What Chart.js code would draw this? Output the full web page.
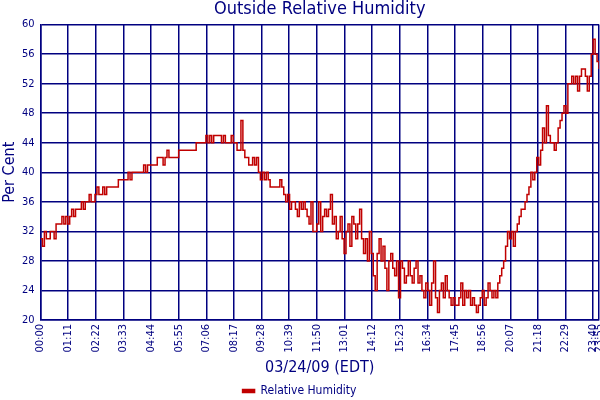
<!DOCTYPE html>
<html><head><meta charset="utf-8">
<script src="https://cdn.jsdelivr.net/npm/chart.js@4/dist/chart.umd.min.js"></script>
<style>html,body{margin:0;padding:0;background:#fff}#wrap{width:600px;height:400px}</style>
</head><body><div id="wrap"><canvas id="c" width="600" height="400"></canvas></div>
<script>
const chartTitle = 'Outside Relative Humidity';
const seriesName = 'Relative Humidity';
const xAxisTitle = '03/24/09 (EDT)';
const yAxisTitle = 'Per Cent';
const xTickLabels = ['00:00','01:11','02:22','03:33','04:44','05:55','07:06','08:17','09:28','10:39','11:50','13:01','14:12','15:23','16:34','17:45','18:56','20:07','21:18','22:29','23:40','23:55'];
const yTickValues = [20,24,28,32,36,40,44,48,52,56,60];
const sampleStepMinutes = 5;
const humidity = [
31,30,32,31,31,32,32,31,33,33,
33,34,33,34,33,34,35,34,35,35,
35,36,35,36,36,37,36,36,37,38,
37,37,38,37,38,38,38,38,38,38,
39,39,39,39,39,40,39,40,40,40,
40,40,40,41,40,41,41,41,41,41,
42,42,42,41,42,43,42,42,42,42,
42,43,43,43,43,43,43,43,43,43,
44,44,44,44,44,45,44,45,44,45,
45,45,45,44,45,44,44,44,45,44,
44,43,43,47,43,42,42,41,41,42,
41,42,40,39,40,39,40,39,38,38,
38,38,38,39,38,37,36,37,35,36,
36,35,34,36,35,36,35,34,33,36,
32,32,33,36,32,34,35,34,35,37,
33,34,31,32,34,31,29,32,33,30,
34,33,31,33,35,31,29,31,28,32,
29,26,24,29,31,28,30,27,24,28,
29,27,26,28,23,28,27,25,26,28,
26,25,27,28,25,26,24,23,25,24,
22,25,28,23,21,24,25,23,26,24,
23,22,23,22,22,23,25,22,24,23,
24,22,23,22,21,22,23,24,22,23,
25,24,23,24,23,25,26,27,28,30,
32,31,32,30,32,33,34,35,35,36,
37,38,40,39,40,42,41,43,46,44,
49,45,44,44,43,44,46,47,48,49,
48,52,52,53,52,53,51,53,54,54,
53,51,53,56,58,56,55,54
];

const navy = '#000080';
const red = '#c00000';
const toMin = s => { const p = s.split(':'); return (+p[0]) * 60 + (+p[1]); };
const xTickMinutes = xTickLabels.map(toMin);
const labelFor = {};
xTickLabels.forEach((l, i) => { labelFor[xTickMinutes[i]] = l; });
const points = humidity.map((v, i) => ({ x: i * sampleStepMinutes, y: v }));

Chart.defaults.font.family = '"DejaVu Sans Condensed", "DejaVu Sans", Verdana, sans-serif';
Chart.defaults.color = navy;

new Chart(document.getElementById('c'), {
  type: 'line',
  data: { datasets: [{
    label: seriesName, data: points, borderColor: red, backgroundColor: red,
    borderWidth: 1.5, pointRadius: 0, stepped: true, fill: false
  }]},
  options: {
    responsive: false, animation: false,
    layout: { padding: { left: 0, right: 1, top: 0, bottom: -7 } },
    plugins: {
      title: { display: true, fullSize: false, text: chartTitle, color: navy, font: { size: 18, weight: 'normal' }, padding: { top: -1, bottom: 4 } },
      legend: { position: 'bottom', labels: { color: navy, font: { size: 12 }, boxWidth: 12, boxHeight: 3, padding: 4 } },
      tooltip: { enabled: false }
    },
    scales: {
      x: {
        type: 'linear', min: xTickMinutes[0], max: xTickMinutes[xTickMinutes.length - 1],
        afterBuildTicks: s => { s.ticks = xTickMinutes.map(v => ({ value: v })); },
        afterFit: s => { s.height = 61; s.paddingRight = 0; s.paddingLeft = 0; },
        ticks: { autoSkip: false, minRotation: 90, maxRotation: 90, padding: 4, color: navy, font: { size: 11 },
          callback: v => labelFor[v] },
        grid: { color: navy, lineWidth: 1.5, drawTicks: false },
        border: { color: navy, width: 1.5 },
        title: { display: true, text: xAxisTitle, color: navy, font: { size: 16 }, padding: { top: 0, bottom: 4 } }
      },
      y: {
        min: yTickValues[0], max: yTickValues[yTickValues.length - 1],
        afterBuildTicks: s => { s.ticks = yTickValues.map(v => ({ value: v })); },
        afterFit: s => { s.width = 40.5; },
        ticks: { padding: 6, color: navy, font: { size: 11 } },
        grid: { color: navy, lineWidth: 1.5, drawTicks: false },
        border: { color: navy, width: 1.5 },
        title: { display: true, text: yAxisTitle, color: navy, font: { size: 16 }, padding: 0 }
      }
    }
  }
});
</script></body></html>
